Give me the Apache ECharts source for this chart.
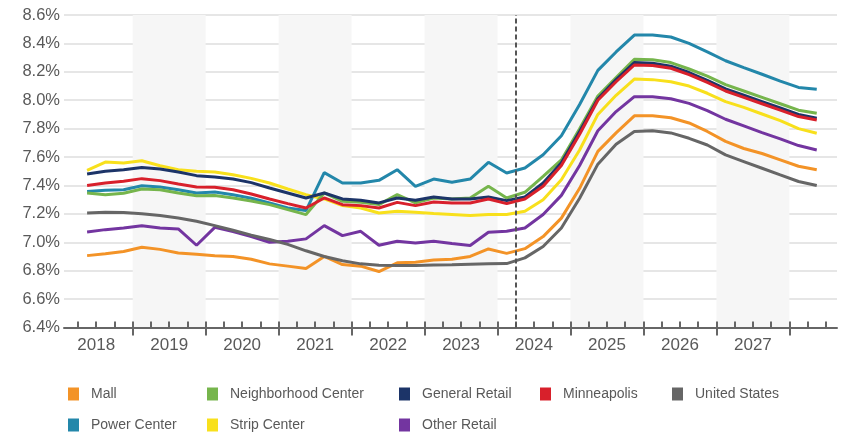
<!DOCTYPE html>
<html><head><meta charset="utf-8">
<script src="https://cdn.jsdelivr.net/npm/echarts@6/dist/echarts.min.js"></script>
<style>html,body{margin:0;padding:0;background:#fff}#c{width:844px;height:433px}</style>
</head><body><div id="c"></div>
<script>
// ---- data ----
const quarters = ['2018Q2','2018Q3','2018Q4','2019Q1','2019Q2','2019Q3','2019Q4','2020Q1','2020Q2','2020Q3','2020Q4',
 '2021Q1','2021Q2','2021Q3','2021Q4','2022Q1','2022Q2','2022Q3','2022Q4','2023Q1','2023Q2','2023Q3','2023Q4',
 '2024Q1','2024Q2','2024Q3','2024Q4','2025Q1','2025Q2','2025Q3','2025Q4','2026Q1','2026Q2','2026Q3','2026Q4',
 '2027Q1','2027Q2','2027Q3','2027Q4','2028Q1','2028Q2'];
const yearLabels = ['2018','2019','2020','2021','2022','2023','2024','2025','2026','2027'];
const forecastStart = '2024Q2';

const mall = [6.906,6.92,6.935,6.965,6.95,6.925,6.915,6.905,6.90,6.88,6.848,6.832,6.815,6.90,6.843,6.832,6.794,6.855,6.86,6.875,6.88,6.90,6.953,6.922,6.955,7.04,7.17,7.38,7.64,7.77,7.89,7.89,7.877,7.84,7.78,7.71,7.66,7.625,7.58,7.535,7.51];
const neighborhood = [7.347,7.335,7.345,7.375,7.37,7.347,7.328,7.33,7.312,7.29,7.265,7.23,7.195,7.347,7.288,7.281,7.265,7.335,7.277,7.312,7.305,7.312,7.394,7.312,7.352,7.464,7.58,7.80,8.03,8.16,8.288,8.285,8.265,8.22,8.17,8.11,8.065,8.02,7.975,7.93,7.908];
const generalRetail = [7.48,7.50,7.511,7.527,7.516,7.495,7.469,7.46,7.445,7.42,7.382,7.347,7.312,7.347,7.305,7.296,7.277,7.312,7.296,7.319,7.305,7.305,7.319,7.293,7.319,7.417,7.56,7.78,8.01,8.145,8.265,8.26,8.24,8.195,8.14,8.08,8.035,7.99,7.945,7.90,7.873];
const minneapolis = [7.40,7.417,7.429,7.448,7.434,7.41,7.389,7.387,7.37,7.34,7.305,7.272,7.241,7.312,7.265,7.258,7.241,7.281,7.258,7.284,7.277,7.277,7.305,7.272,7.305,7.394,7.54,7.76,8.00,8.13,8.248,8.245,8.225,8.18,8.125,8.065,8.02,7.975,7.93,7.885,7.861];
const unitedStates = [7.206,7.211,7.21,7.20,7.188,7.171,7.148,7.117,7.085,7.05,7.02,6.985,6.94,6.90,6.87,6.848,6.838,6.836,6.836,6.84,6.842,6.845,6.848,6.85,6.89,6.97,7.10,7.31,7.55,7.69,7.78,7.785,7.77,7.732,7.685,7.615,7.568,7.521,7.474,7.428,7.40];
const powerCenter = [7.358,7.366,7.37,7.398,7.389,7.37,7.347,7.354,7.335,7.31,7.277,7.241,7.223,7.49,7.417,7.417,7.436,7.511,7.394,7.445,7.422,7.445,7.563,7.488,7.523,7.616,7.75,7.97,8.21,8.34,8.459,8.459,8.445,8.40,8.341,8.278,8.23,8.183,8.134,8.09,8.077];
const stripCenter = [7.506,7.565,7.558,7.574,7.539,7.511,7.50,7.495,7.476,7.45,7.417,7.375,7.335,7.305,7.258,7.241,7.206,7.218,7.211,7.202,7.195,7.188,7.195,7.195,7.218,7.30,7.44,7.65,7.90,8.035,8.149,8.145,8.13,8.10,8.049,7.99,7.95,7.903,7.856,7.80,7.767];
const otherRetail = [7.073,7.089,7.10,7.117,7.10,7.094,6.979,7.105,7.075,7.04,7.0,7.007,7.024,7.117,7.047,7.077,6.979,7.007,6.995,7.007,6.991,6.977,7.07,7.077,7.10,7.195,7.33,7.54,7.785,7.92,8.025,8.025,8.01,7.978,7.927,7.866,7.819,7.772,7.728,7.681,7.65];

const yMin = 6.4, yMax = 8.6, yStep = 0.2;

// ---- helpers ----
const baseYear = +yearLabels[0];
function qStart(s){ const y=+s.slice(0,4), q=+s.slice(5); return (y-baseYear)*4 + (q-1); }
function qMid(s){ return qStart(s) + 0.5; }
const pairs = vals => vals.map((v,i)=>[qMid(quarters[i]), v]);
const xMaxQ = 42.61;
const yearBounds = yearLabels.slice(1).map(y => (y-baseYear)*4).concat([(yearLabels.length)*4]);
const yearCenters = yearLabels.map(y => (y-baseYear)*4 + 2);
const minorTicks = []; for (let u=1; u<=Math.floor(xMaxQ); u++) minorTicks.push(u);
const labelOf = {}; yearLabels.forEach(y => labelOf[(y-baseYear)*4+2] = y);

const seriesDefs = [
 {name:'Power Center', data:powerCenter, color:'#2387AA'},
 {name:'Strip Center', data:stripCenter, color:'#F8E01C'},
 {name:'Other Retail', data:otherRetail, color:'#7335A0'},
 {name:'Mall', data:mall, color:'#F39327'},
 {name:'Neighborhood Center', data:neighborhood, color:'#76B54C'},
 {name:'General Retail', data:generalRetail, color:'#1C3468'},
 {name:'Minneapolis', data:minneapolis, color:'#D8202B'},
 {name:'United States', data:unitedStates, color:'#666666'}
];

const FONT = '"Liberation Sans", Arial, sans-serif';
const series = seriesDefs.map(d => ({
  name:d.name, type:'line', xAxisIndex:0, yAxisIndex:1, data:pairs(d.data),
  symbol:'none', lineStyle:{width:3, color:d.color}, itemStyle:{color:d.color}
}));
series.push({
  name:'forecast', type:'scatter', xAxisIndex:0, yAxisIndex:1,
  data:[[qStart(forecastStart), yMax]], symbolSize:1, itemStyle:{opacity:0},
  label:{show:true, position:'right', distance:5, offset:[0,10], formatter:'Forecast',
         fontWeight:'bold', fontSize:17, color:'#1a1a1a', fontFamily:FONT},
  markLine:{silent:true, symbol:['none','none'], label:{show:false},
    lineStyle:{type:[5,3], color:'#555', width:2},
    data:[{xAxis:qStart(forecastStart)}]},
  z:5
});

const legendCols = [['Mall','Power Center'],['Neighborhood Center','Strip Center'],['General Retail','Other Retail'],['Minneapolis'],['United States']];
const legendLefts = [68,207,399,540,672];
const legend = legendCols.map((col,i)=>({
  data:col, orient:'vertical', left:legendLefts[i], top:387, padding:0,
  icon:'rect', itemWidth:11, itemHeight:13, itemGap:17, selectedMode:false,
  textStyle:{color:'#595959', fontSize:14, fontFamily:FONT, padding:[0,0,0,7]}
}));

const option = {
  animation:false,
  textStyle:{fontFamily:FONT},
  grid:[{left:59.74,right:7,top:15,bottom:105.5},{left:64,right:7,top:15,bottom:105.5}],
  xAxis:[
    {gridIndex:0, type:'value', position:'bottom', min:0, max:xMaxQ, interval:4,
     axisLine:{show:false}, axisTick:{show:false}, axisLabel:{show:false}, splitLine:{show:false},
     splitArea:{show:true, areaStyle:{color:['rgba(255,255,255,0)','#f6f6f6']}}},
    {gridIndex:0, type:'value', position:'bottom', min:0, max:xMaxQ,
     axisLine:{show:false}, axisLabel:{show:false}, splitLine:{show:false},
     axisTick:{show:true, inside:true, length:6, customValues:minorTicks, lineStyle:{color:'#666', width:2}}},
    {gridIndex:0, type:'value', position:'bottom', min:0, max:xMaxQ,
     axisLine:{show:false}, splitLine:{show:false},
     axisTick:{show:true, inside:false, length:8, customValues:yearBounds, lineStyle:{color:'#666', width:2}},
     axisLabel:{show:true, customValues:yearCenters, formatter:v=>labelOf[Math.round(v)]||'', margin:9,
                color:'#595959', fontSize:17, fontFamily:FONT}},
    {gridIndex:1, type:'value', position:'bottom', min:0, max:1,
     axisLine:{show:true, lineStyle:{color:'#666', width:2}}, axisTick:{show:false}, axisLabel:{show:false}, splitLine:{show:false}}
  ],
  yAxis:[
    {gridIndex:1, type:'value', min:yMin, max:yMax, interval:yStep,
     axisLine:{show:false}, axisTick:{show:false},
     axisLabel:{formatter:v=>v.toFixed(1)+'%', margin:4, color:'#595959', fontSize:16.5, fontFamily:FONT},
     splitLine:{lineStyle:{color:'#dedede', width:1.5}}},
    {gridIndex:0, type:'value', min:yMin, max:yMax, show:false, splitLine:{show:false}}
  ],
  legend:legend,
  series:series
};
const chart = echarts.init(document.getElementById('c'), null, {renderer:'canvas'});
chart.setOption(option);
</script></body></html>
